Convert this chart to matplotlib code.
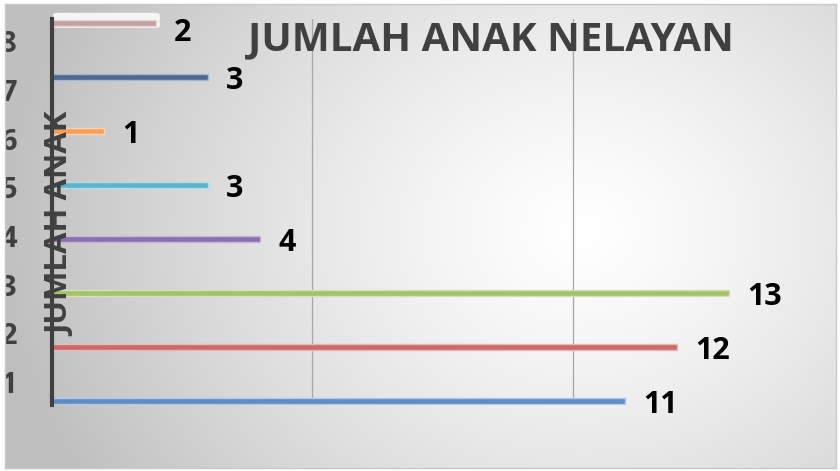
import numpy as np
import matplotlib
matplotlib.use("Agg")
import matplotlib.pyplot as plt
from matplotlib.patches import FancyBboxPatch

plt.rcParams['font.family'] = ['Open Sans', 'DejaVu Sans']

categories = ['1', '2', '3', '4', '5', '6', '7', '8']
values = [11, 12, 13, 4, 3, 1, 3, 2]
colors = ['#5f8cc6', '#cc6a68', '#a3c26a', '#8a70ac', '#5ab5cc', '#f8a15c', '#4d6892', '#c4a2a1']
edge_colors = ['#b4c8e4', '#e8b8b6', '#d2e2b6', '#c4b8d8', '#b4dce8', '#fcd2b0', '#a8b6cc', '#e4d4d4']
title = 'JUMLAH ANAK NELAYAN'
ylabel = 'JUMLAH ANAK'

W, H = 840, 471
fig = plt.figure(figsize=(W / 100, H / 100), dpi=100)
fig.patch.set_facecolor('white')

# background chart area with radial gradient
bx0, by0, bx1, by1 = 5, 4, 836, 468  # pixel coords (top-left origin)
bg = fig.add_axes([bx0 / W, 1 - by1 / H, (bx1 - bx0) / W, (by1 - by0) / H])
bg.set_xlim(bx0, bx1)
bg.set_ylim(by1, by0)
yy, xx = np.mgrid[by0:by1, bx0:bx1]
d = np.sqrt(((xx - 580) / 1.0) ** 2 + ((yy - 230) / 0.85) ** 2)
t = np.clip(d / 580, 0, 1) ** 1.3
g = 1.0 - t * (1.0 - 0.75)
img = np.dstack([g, g, g])
bg.imshow(img, extent=(bx0, bx1, by1, by0), aspect='auto', zorder=0)
for s in bg.spines.values():
    s.set_color('#c8c8c8')
    s.set_linewidth(1)
bg.set_xticks([])
bg.set_yticks([])

# main axes
ax_l, ax_r, ax_t, ax_b = 52, 833, 19, 405
ax = fig.add_axes([ax_l / W, 1 - ax_b / H, (ax_r - ax_l) / W, (ax_b - ax_t) / H])
ax.patch.set_alpha(0)
ypos = np.arange(1, len(categories) + 1)
ax.set_xlim(0, 15)
ax.set_ylim(0.926, 8.075)

# white rounded highlight behind the top bar
hl = FancyBboxPatch((0.02, ypos[-1] - 0.09), values[-1] + 0.05, 0.28,
                    boxstyle='round,pad=0.0,rounding_size=0.12',
                    facecolor='#f6f6f6', edgecolor='none', zorder=1,
                    mutation_aspect=0.27, clip_on=False)
ax.add_patch(hl)

ax.barh(ypos, values, height=0.095, color=colors, edgecolor=edge_colors,
        linewidth=1.0, zorder=3)
n = len(values)
for i, (y, v) in enumerate(zip(ypos, values)):
    dy = -7 if i == n - 1 else -3
    ax.annotate(str(v), (v, y), xytext=(13, dy), textcoords='offset points',
                ha='left', va='center', fontsize=22, fontweight='bold',
                color='black', zorder=4)

ax.set_xticks([5, 10])
ax.grid(axis='x', color='#a6a6a6', linewidth=0.9)
ax.tick_params(axis='x', length=0, labelbottom=False)
ax.tick_params(axis='y', length=0, labelleft=False)
for side in ['top', 'right', 'bottom']:
    ax.spines[side].set_visible(False)
ax.spines['left'].set_color('#404040')
ax.spines['left'].set_linewidth(3)
ax.spines['left'].set_zorder(5)

# category labels (clipped at chart border)
label_top, label_step = 45, 48.6
for i, lab in enumerate(categories[::-1]):
    py = label_top + i * label_step
    bg.text(17, py, lab, ha='right', va='center', fontsize=21,
            fontweight='bold', color='#404040', clip_on=True, zorder=2)

# y label
fig.text(61 / W, 1 - 224 / H, ylabel, rotation=90, ha='center', va='center',
         fontsize=22.5, fontweight='bold', color='#404040', zorder=6)

# title
fig.text(491 / W, 1 - 40 / H, title, ha='center', va='center',
         fontsize=29, fontweight='bold', color='#404040')

fig.savefig('out.png', dpi=100)
